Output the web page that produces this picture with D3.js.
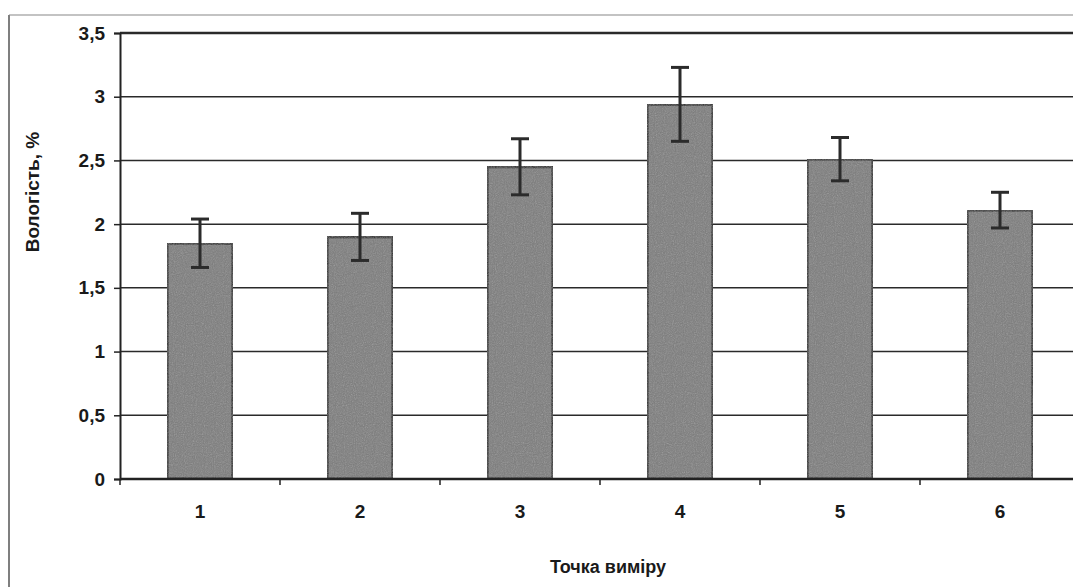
<!DOCTYPE html>
<html>
<head>
<meta charset="utf-8">
<script src="https://cdn.jsdelivr.net/npm/d3@7"></script>
<style>
  body { margin: 0; background: #fff; }
  text { font-family: "Liberation Sans", Arial, sans-serif; fill: #1a1a1a; }
</style>
</head>
<body>
<div id="chart"></div>
<script>
// точки виміру і вологість
const points = ['1', '2', '3', '4', '5', '6'];
const moisture = [1.85, 1.90, 2.45, 2.94, 2.51, 2.11];
const errs = [0.19, 0.185, 0.22, 0.29, 0.17, 0.14];
const yTicks = [0, 0.5, 1, 1.5, 2, 2.5, 3, 3.5];

var width = 1073, height = 587;
var margin = { top: 33, left: 120, bottom: 108 };
var plotW = 960; // goes past the right edge, like the scan

var svg = d3.select("#chart").append("svg")
  .attr("width", width)
  .attr("height", height);

// grainy fill for the bars
var defs = svg.append("defs");
var f = defs.append("filter").attr("id", "grain").attr("x", 0).attr("y", 0).attr("width", 1).attr("height", 1);
f.append("feTurbulence").attr("type", "fractalNoise").attr("baseFrequency", 0.9).attr("numOctaves", 2).attr("seed", 3).attr("result", "noise");
f.append("feColorMatrix").attr("in", "noise").attr("type", "saturate").attr("values", 0).attr("result", "gray");
f.append("feComponentTransfer").attr("in", "gray").attr("result", "soft")
  .append("feFuncA").attr("type", "linear").attr("slope", 0.3);
f.append("feComposite").attr("in", "soft").attr("in2", "SourceGraphic").attr("operator", "in").attr("result", "n2");
var fm = f.append("feMerge");
fm.append("feMergeNode").attr("in", "SourceGraphic");
fm.append("feMergeNode").attr("in", "n2");

// outer frame of the chart
svg.append("line").attr("x1", 9).attr("x2", 9).attr("y1", 15).attr("y2", height)
  .attr("stroke", "#555").attr("stroke-width", 1.5);
svg.append("line").attr("x1", 9).attr("x2", width).attr("y1", 15).attr("y2", 15)
  .attr("stroke", "#888").attr("stroke-width", 1.2);

var x = d3.scaleBand()
  .domain(points)
  .range([margin.left, margin.left + plotW])
  .paddingInner(0.59)
  .paddingOuter(0.295);

var y = d3.scaleLinear()
  .domain([0, 3.5])
  .range([479, margin.top]);

var fmt = function (d) { return String(d).replace('.', ','); };

// gridlines
svg.append("g")
  .selectAll("line")
  .data(yTicks.slice(1))
  .enter()
  .append("line")
  .attr("x1", margin.left)
  .attr("x2", margin.left + plotW)
  .attr("y1", function (d) { return y(d); })
  .attr("y2", function (d) { return y(d); })
  .attr("stroke", "#2a2a2a")
  .attr("stroke-width", function (d) { return d === 3.5 ? 2.5 : 1.5; });

// y axis
var yAxis = svg.append("g")
  .attr("transform", "translate(" + margin.left + ",0)")
  .call(d3.axisLeft(y).tickValues(yTicks).tickFormat(fmt).tickSize(6).tickPadding(9));
yAxis.select(".domain").attr("stroke", "#222").attr("stroke-width", 2);
yAxis.selectAll(".tick line").attr("stroke", "#222").attr("stroke-width", 1.5);
yAxis.selectAll("text").style("font-size", "19px").style("font-weight", "bold").attr("fill", "#1a1a1a");

// bars
svg.append("g")
  .selectAll("rect")
  .data(moisture)
  .enter()
  .append("rect")
  .attr("x", function (d, i) { return x(points[i]); })
  .attr("y", function (d) { return y(d); })
  .attr("width", x.bandwidth())
  .attr("height", function (d) { return y(0) - y(d); })
  .attr("fill", "#7b7b7b")
  .attr("stroke", "#2b2b2b")
  .attr("stroke-width", 3)
  .attr("filter", "url(#grain)");

// x axis (category boundaries as ticks)
var step = x.step();
var xAxis = svg.append("g").attr("transform", "translate(0," + y(0) + ")");
xAxis.append("line")
  .attr("x1", margin.left).attr("x2", margin.left + plotW)
  .attr("stroke", "#222").attr("stroke-width", 2.5);
xAxis.selectAll(".bt")
  .data(d3.range(points.length + 1))
  .enter()
  .append("line")
  .attr("class", "bt")
  .attr("x1", function (i) { return margin.left + i * step; })
  .attr("x2", function (i) { return margin.left + i * step; })
  .attr("y1", 0).attr("y2", 6)
  .attr("stroke", "#222").attr("stroke-width", 1.5);
xAxis.selectAll("text")
  .data(points)
  .enter()
  .append("text")
  .attr("x", function (d) { return x(d) + x.bandwidth() / 2; })
  .attr("y", 39)
  .attr("text-anchor", "middle")
  .style("font-size", "19px")
  .style("font-weight", "bold")
  .text(function (d) { return d; });

// error bars
var eb = svg.append("g").selectAll("g")
  .data(moisture)
  .enter()
  .append("g")
  .attr("stroke", "#2b2b2b")
  .attr("stroke-width", 3);
eb.append("line")
  .attr("x1", function (d, i) { return x(points[i]) + x.bandwidth() / 2; })
  .attr("x2", function (d, i) { return x(points[i]) + x.bandwidth() / 2; })
  .attr("y1", function (d, i) { return y(d + errs[i]); })
  .attr("y2", function (d, i) { return y(d - errs[i]); });
[1, -1].forEach(function (s) {
  eb.append("line")
    .attr("x1", function (d, i) { return x(points[i]) + x.bandwidth() / 2 - 9; })
    .attr("x2", function (d, i) { return x(points[i]) + x.bandwidth() / 2 + 9; })
    .attr("y1", function (d, i) { return y(d + s * errs[i]); })
    .attr("y2", function (d, i) { return y(d + s * errs[i]); });
});

// axis titles
svg.append("text")
  .attr("transform", "translate(39,192) rotate(-90)")
  .attr("text-anchor", "middle")
  .style("font-size", "19px")
  .style("font-weight", "bold")
  .text("Вологість, %");

svg.append("text")
  .attr("x", 608)
  .attr("y", 573)
  .attr("text-anchor", "middle")
  .style("font-size", "18px")
  .style("font-weight", "bold")
  .text("Точка виміру");
</script>
</body>
</html>
